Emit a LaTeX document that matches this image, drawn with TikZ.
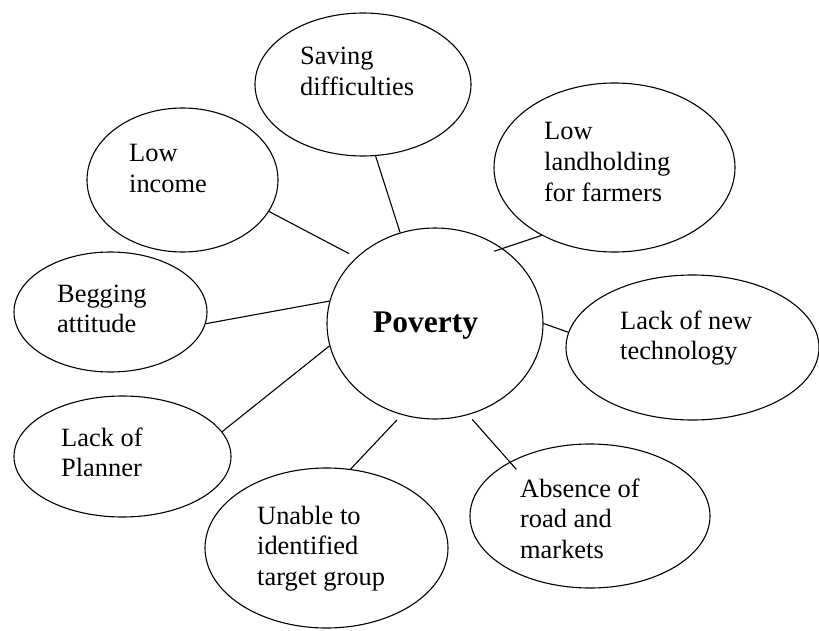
\documentclass[tikz,border=0pt]{standalone}
\usepackage{fontspec}
\setmainfont{Liberation Serif}
\usetikzlibrary{shapes.geometric}
\newcommand{\bubblefont}{\fontsize{26.4}{30.8}\selectfont}
\newcommand{\corefont}{\fontsize{31.5}{36}\selectfont\bfseries}
\newcommand{\bubbletext}[1]{\begin{tabular}[t]{@{}l@{}}#1\end{tabular}}
\tikzset{
  bubble/.style={ellipse, draw, line width=1.1pt, inner sep=0pt},
  caption/.style={anchor=base west, inner sep=0pt, font=\bubblefont},
  link/.style={line width=1.1pt},
}
\begin{document}
\begin{tikzpicture}[x=1pt,y=-1pt]
\useasboundingbox (0,0) rectangle (819,631);

% outlines of the bubbles
\node[bubble, minimum width=216pt, minimum height=191pt] (pov)  at (435,323.5) {};
\node[bubble, minimum width=216pt, minimum height=143pt] (sav)  at (363,84.5) {};
\node[bubble, minimum width=191pt, minimum height=144pt] (inc)  at (182.5,180) {};
\node[bubble, minimum width=241pt, minimum height=169pt] (land) at (614.5,167.5) {};
\node[bubble, minimum width=193pt, minimum height=120pt] (beg)  at (110.5,312) {};
\node[bubble, minimum width=253pt, minimum height=145pt] (tech) at (692.5,347.5) {};
\node[bubble, minimum width=217pt, minimum height=121pt] (plan) at (122.5,456.5) {};
\node[bubble, minimum width=240pt, minimum height=144pt] (abs)  at (590,516) {};
\node[bubble, minimum width=243pt, minimum height=160pt] (unab) at (326.5,548) {};

% texts, left aligned inside each bubble
\node[anchor=base west, inner sep=0pt, font=\corefont] (povt) at (373,332) {Poverty};
\node[caption] (savt)  at (300,65)  {\bubbletext{Saving\\difficulties}};
\node[caption] (inct)  at (129,162) {\bubbletext{Low\\income}};
\node[caption] (landt) at (544,140) {\bubbletext{Low\\landholding\\for farmers}};
\node[caption] (begt)  at (57,302)  {\bubbletext{Begging\\attitude}};
\node[caption] (techt) at (620,329) {\bubbletext{Lack of new\\technology}};
\node[caption] (plant) at (61,446)  {\bubbletext{Lack of\\Planner}};
\node[caption] (abst)  at (520,497) {\bubbletext{Absence of\\road and\\markets}};
\node[caption] (unabt) at (257,524) {\bubbletext{Unable to\\identified\\target group}};

% connectors to the central bubble
\draw[link] (sav.-80.5) -- (pov.111);
\draw[link, shorten >=8pt] (inc.-20.3) -- (pov.140);
\draw[link, shorten >=-9pt] (land.223.8) -- (pov.48);
\draw[link] (beg.-7.1) -- (pov.168);
\draw[link] (plan.14.2) -- (pov.192.8);
\draw[link, shorten >=7pt] (unab.73) -- (pov.-110.8);
\draw[link, shorten <=6pt, shorten >=-10pt] (pov.-70.3) -- (abs.146.3);
\draw[link] (pov.0) -- (tech.173.3);
\end{tikzpicture}
\end{document}
